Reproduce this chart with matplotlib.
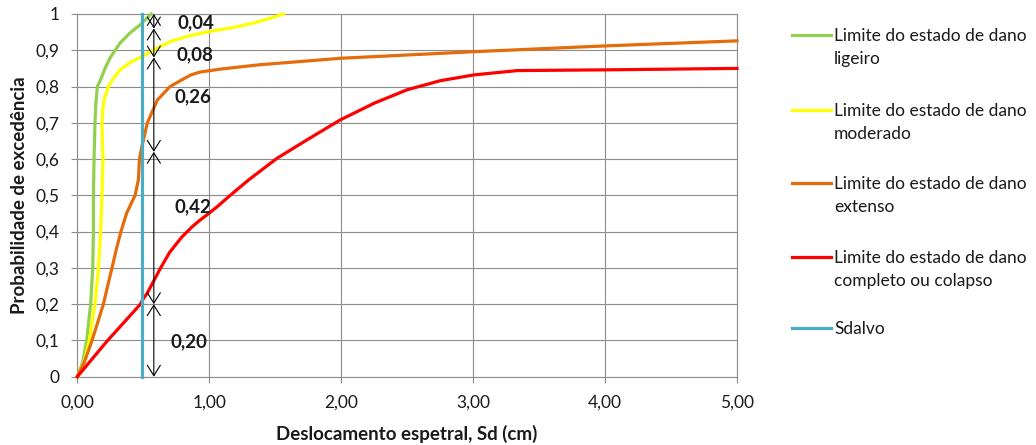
import matplotlib
matplotlib.use("Agg")
import matplotlib.pyplot as plt
from matplotlib.lines import Line2D
from matplotlib.ticker import FuncFormatter, MultipleLocator

plt.rcParams['font.family'] = ['Lato', 'DejaVu Sans']

# Fragility curves: spectral displacement (cm) vs exceedance probability
sd_ligeiro = [0, 0.041, 0.071, 0.101, 0.117, 0.122, 0.122, 0.127, 0.134, 0.14, 0.152, 0.178,
              0.21, 0.25, 0.324, 0.40, 0.476, 0.56]
p_ligeiro = [0, 0.04, 0.10, 0.20, 0.30, 0.40, 0.50, 0.60, 0.70, 0.75, 0.80, 0.82,
             0.85, 0.88, 0.92, 0.948, 0.97, 1.0]

sd_moderado = [0, 0.051, 0.091, 0.134, 0.16, 0.177, 0.187, 0.195, 0.19, 0.187, 0.195, 0.203,
               0.235, 0.273, 0.324, 0.40, 0.489, 0.60, 0.703, 0.85, 1.007, 1.17, 1.335, 1.45, 1.563]
p_moderado = [0, 0.04, 0.10, 0.20, 0.30, 0.40, 0.50, 0.60, 0.66, 0.70, 0.74, 0.763,
              0.80, 0.822, 0.846, 0.866, 0.883, 0.905, 0.924, 0.94, 0.952, 0.962, 0.975, 0.987, 1.0]

sd_extenso = [0, 0.051, 0.109, 0.155, 0.197, 0.23, 0.261, 0.295, 0.329, 0.375, 0.438, 0.463,
              0.471, 0.489, 0.531, 0.607, 0.703, 0.79, 0.86, 0.931, 1.083, 1.38, 1.69, 2.0, 3.0, 4.0, 5.0]
p_extenso = [0, 0.038, 0.097, 0.15, 0.199, 0.25, 0.297, 0.35, 0.398, 0.452, 0.50, 0.543,
             0.60, 0.634, 0.70, 0.763, 0.80, 0.818, 0.832, 0.840, 0.848, 0.86, 0.869, 0.878, 0.896, 0.912, 0.926]

sd_completo = [0, 0.223, 0.476, 0.50, 0.531, 0.627, 0.70, 0.792, 0.875, 0.931, 0.982, 1.058, 1.159,
               1.30, 1.513, 1.75, 1.993, 2.25, 2.499, 2.75, 3.005, 3.334, 3.66, 4.0, 5.0]
p_completo = [0, 0.097, 0.199, 0.215, 0.231, 0.297, 0.343, 0.385, 0.415, 0.432, 0.446, 0.468, 0.50,
              0.543, 0.602, 0.655, 0.708, 0.754, 0.791, 0.816, 0.832, 0.844, 0.845, 0.846, 0.85]

sd_alvo = 0.49

# Probability of each damage state at the target displacement
prob_estados = [0.20, 0.42, 0.26, 0.08, 0.04]
prob_labels = ['0,20', '0,42', '0,26', '0,08', '0,04']
x_cotas = 0.58

legend_labels = [
    ['Limite do estado de dano', 'ligeiro'],
    ['Limite do estado de dano', 'moderado'],
    ['Limite do estado de dano', 'extenso'],
    ['Limite do estado de dano', 'completo ou colapso'],
    ['Sdalvo'],
]
colors = ['#92D050', '#FFFF00', '#E46C0A', '#FF0000', '#4BACC6']

W, H = 1036, 445
fig = plt.figure(figsize=(W / 100, H / 100), dpi=100)
ax = fig.add_axes([77.3 / W, 1 - 376.7 / H, (737 - 77.3) / W, (376.7 - 14) / H])

grid_c = '#8c8c8c'
text_c = '#1a1a1a'
lw = 2.3
ax.plot(sd_ligeiro, p_ligeiro, color=colors[0], lw=lw, clip_on=False, zorder=3)
ax.plot(sd_moderado, p_moderado, color=colors[1], lw=lw, clip_on=False, zorder=3)
ax.plot(sd_extenso, p_extenso, color=colors[2], lw=lw, clip_on=False, zorder=3)
ax.plot(sd_completo, p_completo, color=colors[3], lw=lw, clip_on=False, zorder=3)
ax.plot([sd_alvo, sd_alvo], [0, 1], color=colors[4], lw=lw, clip_on=False, zorder=4)

# Dimension arrows with the probability of each damage state
base = 0.0
for p in prob_estados:
    top = base + p
    ax.annotate('', xy=(x_cotas, top), xytext=(x_cotas, base),
                arrowprops=dict(arrowstyle='<->,head_length=0.75,head_width=0.47',
                                color='black', lw=0.8, shrinkA=0, shrinkB=0,
                                mutation_scale=10),
                annotation_clip=False, zorder=5)
    base = top

label_pos = {
    '0,04': (0.76, 0.975),
    '0,08': (0.75, 0.887),
    '0,26': (0.74, 0.772),
    '0,42': (0.74, 0.469),
    '0,20': (0.71, 0.097),
}
for lab in prob_labels:
    x, y = label_pos[lab]
    ax.text(x, y, lab, fontsize=13.5, fontweight='bold', ha='left', va='center',
            color=text_c, zorder=6)

ax.set_xlim(0, 5)
ax.set_ylim(0, 1)
ax.xaxis.set_major_locator(MultipleLocator(1))
ax.yaxis.set_major_locator(MultipleLocator(0.1))
ax.xaxis.set_major_formatter(FuncFormatter(lambda v, _: f'{v:.2f}'.replace('.', ',')))


def fmt_y(v, _):
    if abs(v) < 1e-9:
        return '0'
    if abs(v - 1) < 1e-9:
        return '1'
    return f'{v:.1f}'.replace('.', ',')


ax.yaxis.set_major_formatter(FuncFormatter(fmt_y))
ax.grid(True, color=grid_c, lw=0.8)
ax.set_axisbelow(True)
for s in ax.spines.values():
    s.set_color(grid_c)
    s.set_linewidth(0.8)
ax.tick_params(axis='both', colors=grid_c, labelcolor=text_c, labelsize=12.5, length=4, width=0.8)
ax.tick_params(axis='x', pad=9)
ax.tick_params(axis='y', pad=9)

ax.set_xlabel('Deslocamento espetral, Sd (cm)', fontsize=13.5, fontweight='bold',
              labelpad=10, color=text_c)
ax.set_ylabel('Probabilidade de excedência', fontsize=13.5, fontweight='bold',
              labelpad=5, color=text_c)

# Legend entries drawn at fixed figure positions
rows = [35, 110, 183, 257, 328]
line_gap = 23
for lines, c, yp in zip(legend_labels, colors, rows):
    fig.add_artist(Line2D([792 / W, 831 / W], [1 - yp / H, 1 - yp / H], color=c, lw=2.3))
    for i, txt in enumerate(lines):
        fig.text(834 / W, 1 - (yp + 6 + i * line_gap) / H, txt, fontsize=12.5,
                 ha='left', va='baseline', color=text_c)

fig.savefig('out.png', dpi=100)
